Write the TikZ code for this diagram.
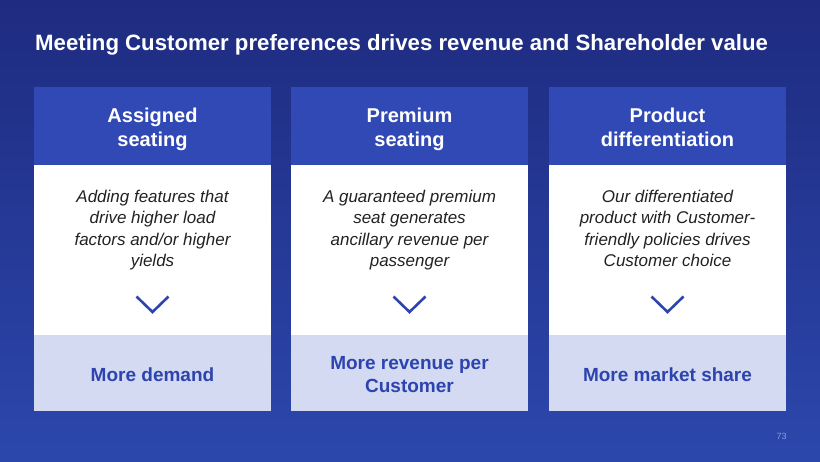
\documentclass[tikz,border=0pt]{standalone}
\usepackage{fontspec}
\setmainfont{Liberation Sans}
\definecolor{bgtop}{HTML}{1E2B80}
\definecolor{bgbot}{HTML}{2C47AC}
\definecolor{hdr}{HTML}{3149B4}
\definecolor{lite}{HTML}{D3DAF2}
\definecolor{accent}{HTML}{2D44AE}
\definecolor{bodytxt}{HTML}{222222}
\definecolor{pnum}{HTML}{8A9BE0}
\tikzset{
  hdrbox/.style={fill=hdr, draw=none},
  bodybox/.style={fill=white, draw=none},
  litebox/.style={fill=lite, draw=none},
  hdrtxt/.style={text=white, font=\fontsize{20}{24}\selectfont\bfseries, align=center, inner sep=0pt},
  bodytext/.style={text=bodytxt, font=\fontsize{17}{21.3}\selectfont\itshape, align=center, inner sep=0pt},
  outtxt/.style={text=accent, font=\fontsize{19}{23}\selectfont\bfseries, align=center, inner sep=0pt},
  chev/.style={draw=accent, line width=2.6pt, line cap=butt, line join=miter}
}
\begin{document}
\begin{tikzpicture}[x=1pt,y=-1pt]
\useasboundingbox (0,0) rectangle (820,461);
\shade[top color=bgtop, bottom color=bgbot] (0,0) rectangle (820,461);
\node[anchor=base west, text=white, inner sep=0pt] (title) at (35,50.5)
  {\fontsize{22.2}{26}\selectfont\bfseries Meeting Customer preferences drives revenue and Shareholder value};
% columns
\foreach \i/\xl/\hd/\bd/\out/\oy in {
  a/34/{\strut Assigned\\\strut seating}/{\strut Adding features that\\\strut drive higher load\\\strut factors and/or higher\\\strut yields}/{\strut More demand}/377,
  b/291/{\strut Premium\\\strut seating}/{\strut A guaranteed premium\\\strut seat generates\\\strut ancillary revenue per\\\strut passenger}/{\strut More revenue per\\\strut Customer}/376,
  c/549/{\strut Product\\\strut differentiation}/{\strut Our differentiated\\\strut product with Customer-\\\strut friendly policies drives\\\strut Customer choice}/{\strut More market share}/377} {
  \fill[hdrbox] (\xl,87) rectangle ++(237,78);
  \fill[bodybox] (\xl,165) rectangle ++(237,170);
  \fill[litebox] (\xl,335) rectangle ++(237,76);
  \node[hdrtxt] (h\i) at (\xl+118.5,129.2) {\hd};
  \node[bodytext] (b\i) at (\xl+118.5,230.2) {\bd};
  \node[outtxt] (o\i) at (\xl+118.5,\oy) {\out};
  \coordinate (cl\i) at (\xl+102.5,296.5);
  \coordinate (cm\i) at (\xl+118.5,312);
  \coordinate (cr\i) at (\xl+134.5,296.5);
  \draw[chev] (cl\i) -- (cm\i) -- (cr\i);
}
\node[text=pnum, font=\fontsize{9}{11}\selectfont, inner sep=0pt] (pg) at (781.5,436) {73};
\end{tikzpicture}
\end{document}
